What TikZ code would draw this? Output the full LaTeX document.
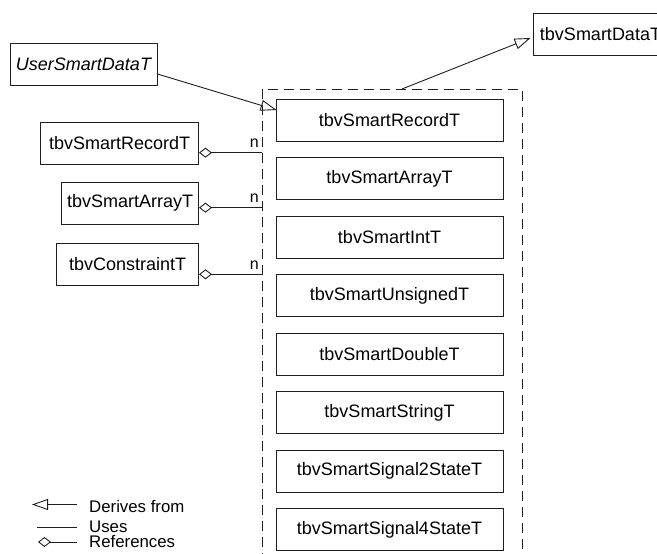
\documentclass[tikz,border=0pt]{standalone}
\usepackage{fontspec}
\setmainfont{Liberation Sans}
\usepackage{xcolor}
\usetikzlibrary{arrows.meta,positioning,calc}
\definecolor{inkgray}{RGB}{30,30,30}

\begin{document}
\begin{tikzpicture}[x=1pt,y=-1pt]
  % smart data type family and its users
  \tikzset{cls/.style={draw=inkgray,line width=0.9pt,minimum height=42pt,inner sep=0pt,font=\fontsize{18}{20}\selectfont},
    member/.style={cls,minimum width=227pt},
    derive/.style={-{Triangle[open,length=16pt,width=11pt]},line width=0.9pt,inkgray},
    refer/.style={-{Diamond[open,length=13pt,width=10pt]},line width=0.9pt,inkgray},
    mult/.style={font=\fontsize{16}{18}\selectfont,inner sep=0pt,anchor=base east},
    lgd/.style={font=\fontsize{16.8}{18}\selectfont,inner sep=0pt,anchor=west}}
  \useasboundingbox (0,0) rectangle (657,554);
  \clip (0,0) rectangle (657,554);
  \node[draw=inkgray,dash pattern=on 10pt off 6pt,line width=0.9pt,minimum width=260pt,minimum height=520pt,inner sep=0pt,anchor=north west] (grp) at (262,89) {};
  \node[member] (rec) at (389.5,120) {tbvSmartRecordT};
  \node[member,below=15.6pt of rec] (arr) {tbvSmartArrayT};
  \node[member,below=15.6pt of arr] (int) {tbvSmartIntT};
  \node[member,below=15.6pt of int] (uns) {tbvSmartUnsignedT};
  \node[member,below=15.6pt of uns] (dbl) {tbvSmartDoubleT};
  \node[member,below=15.6pt of dbl] (str) {tbvSmartStringT};
  \node[member,below=15.6pt of str] (sigb) {tbvSmartSignal2StateT};
  \node[member,below=15.6pt of sigb] (sigd) {tbvSmartSignal4StateT};
  \node[cls,minimum width=135pt] (data) at (600.5,34) {tbvSmartDataT};
  \node[cls,minimum width=147pt,font=\fontsize{18}{20}\selectfont\itshape] (user) at (83.5,64.5) {UserSmartDataT};
  \node[cls,minimum width=158pt,anchor=east] (lrec) at (199,143) {tbvSmartRecordT};
  \node[cls,minimum width=137pt,anchor=east] (larr) at (199,203) {tbvSmartArrayT};
  \node[cls,minimum width=142pt,anchor=east] (lcon) at (199,264.5) {tbvConstraintT};
  % inheritance
  \draw[derive] ($(user.east)+(0,9.5)$) -- ($(rec.west)+(1,-10)$);
  \draw[derive] ($(grp.north west)+(140,0)$) -- ($(data.west)+(-2,4)$);
  % references with multiplicity
  \coordinate (c1) at (262,152.7);
  \coordinate (c2) at (262,207.7);
  \coordinate (c3) at (262,274.3);
  \draw[refer] (c1) -- (c1 -| lrec.east);
  \draw[refer] (c2) -- (c2 -| larr.east);
  \draw[refer] (c3) -- (c3 -| lcon.east);
  \node[mult] (n1) at ($(c1)+(-3,-5)$) {n};
  \node[mult] (n2) at ($(c2)+(-3,-5)$) {n};
  \node[mult] (n3) at ($(c3)+(-3,-5)$) {n};
  % legend
  \node[lgd] (lder) at (89,506) {Derives from};
  \node[lgd] (luse) at (89,527) {Uses};
  \node[lgd] (lref) at (89,542) {References};
  \coordinate (d0) at (32,504.5); \coordinate (d1) at (77,504.5);
  \coordinate (u0) at (37,527.7); \coordinate (u1) at (77,527.7);
  \coordinate (r0) at (38,542); \coordinate (r1) at (77,542);
  \draw[derive] (d1) -- (d0);
  \draw[line width=0.9pt,inkgray] (u0) -- (u1);
  \draw[refer] (r1) -- (r0);
\end{tikzpicture}
\end{document}
